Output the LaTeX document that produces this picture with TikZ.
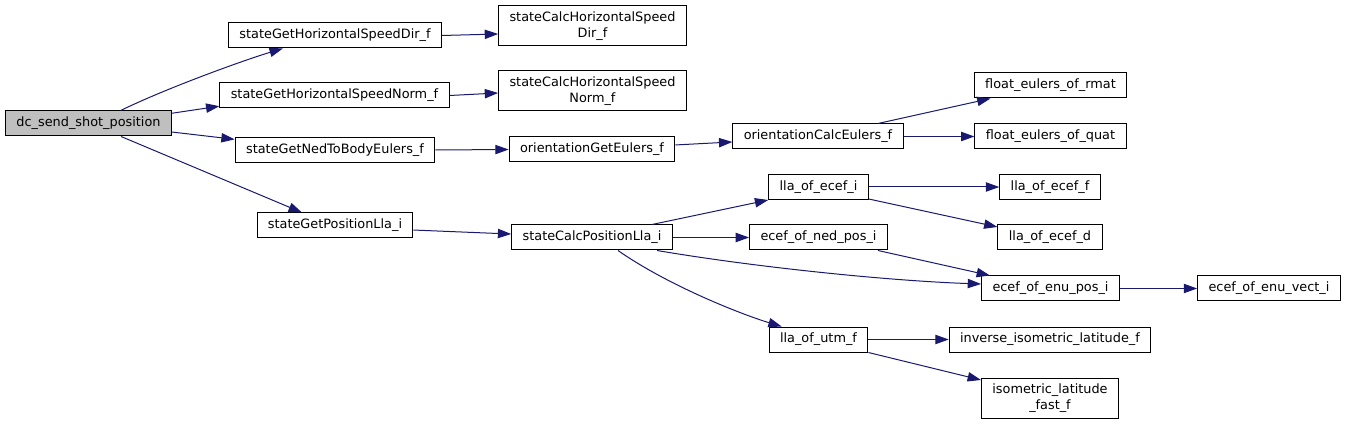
\documentclass[tikz,border=0pt]{standalone}
\usepackage{fontspec}
\setmainfont{DejaVu Sans}
\usepackage{tikz}
\usetikzlibrary{arrows.meta}
\definecolor{edgeblue}{HTML}{191970}
\definecolor{rootgray}{HTML}{BFBFBF}

\begin{document}
\begin{tikzpicture}[
 x=0.75pt,y=-0.75pt,
 fn/.style={draw=black,line width=0.75pt,minimum height=18.75pt,inner xsep=8.2pt,inner ysep=2pt,align=center,font=\fontsize{9.64}{12}\selectfont,fill=white},
 tall/.style={minimum height=30pt},
 root/.style={fn,fill=rootgray},
 arr/.style={-{Triangle[length=10pt,width=7pt]},line width=0.75pt,edgeblue}
]
\useasboundingbox (0,0) rectangle (1347,424);
\node[root] (send) at (88.5,123.5) {dc\_send\_shot\_position};
\node[fn] (getdir) at (335,35.5) {stateGetHorizontalSpeedDir\_f};
\node[fn] (getnorm) at (334.5,95.5) {stateGetHorizontalSpeedNorm\_f};
\node[fn] (getned) at (335,150) {stateGetNedToBodyEulers\_f};
\node[fn] (getpos) at (335,225.5) {stateGetPositionLla\_i};
\node[fn,tall] (calcdir) at (592.5,26) {stateCalcHorizontalSpeed\\Dir\_f};
\node[fn,tall] (calcnorm) at (592.5,91) {stateCalcHorizontalSpeed\\Norm\_f};
\node[fn] (orget) at (592,149.5) {orientationGetEulers\_f};
\node[fn] (calcpos) at (592,237.5) {stateCalcPositionLla\_i};
\node[fn] (orcalc) at (818,136.5) {orientationCalcEulers\_f};
\node[fn] (llai) at (818.5,187) {lla\_of\_ecef\_i};
\node[fn] (nedpos) at (818.5,237.5) {ecef\_of\_ned\_pos\_i};
\node[fn] (utm) at (818.5,339.5) {lla\_of\_utm\_f};
\node[fn] (rmat) at (1050.5,85.5) {float\_eulers\_of\_rmat};
\node[fn] (quat) at (1050.5,136.5) {float\_eulers\_of\_quat};
\node[fn] (llaf) at (1050,187) {lla\_of\_ecef\_f};
\node[fn] (llad) at (1050,237.5) {lla\_of\_ecef\_d};
\node[fn] (enupos) at (1050.5,288.5) {ecef\_of\_enu\_pos\_i};
\node[fn] (invlat) at (1050,339.5) {inverse\_isometric\_latitude\_f};
\node[fn,tall] (isolat) at (1050,398) {isometric\_latitude\\\_fast\_f};
\node[fn] (enuvect) at (1269,288.5) {ecef\_of\_enu\_vect\_i};
\draw[arr] (send.22) .. controls +(45,-22) and +(-40,12) .. (getdir.194);
\draw[arr] (send.7) -- ([yshift=-8pt]getnorm.west);
\draw[arr] ([yshift=-6.4pt]send.east) -- ([yshift=8pt]getned.west);
\draw[arr] ([xshift=24.4pt]send.south) -- ([xshift=-24.8pt]getpos.north);
\draw[arr] (getdir.east) -- ([yshift=-6pt]calcdir.west);
\draw[arr] (getnorm.east) -- ([yshift=-1.5pt]calcnorm.west);
\draw[arr] (getned.east) -- (orget.west);
\draw[arr] ([yshift=-3.4pt]getpos.east) -- ([yshift=2.6pt]calcpos.west);
\draw[arr] ([yshift=3.4pt]orget.east) -- ([yshift=-4.1pt]orcalc.west);
\draw[arr] ([xshift=45pt]orcalc.north) -- ([xshift=-45pt]rmat.south);
\draw[arr] (orcalc.east) -- (quat.west);
\draw[arr] ([xshift=45pt]calcpos.north) -- (llai.south west);
\draw[arr] (calcpos.east) -- (nedpos.west);
\draw[arr] ([xshift=48.8pt]calcpos.south) .. controls +(100,17) and +(-90,-3) .. ([yshift=3.4pt]enupos.west);
\draw[arr] ([xshift=19.5pt]calcpos.south) .. controls +(50,35) and +(-40,-12) .. ([xshift=-27.6pt]utm.north);
\draw[arr] ([xshift=44.6pt]nedpos.south) -- ([xshift=-45.4pt]enupos.north);
\draw[arr] (llai.east) -- (llaf.west);
\draw[arr] ([yshift=-9pt]llai.east) -- ([yshift=7.9pt]llad.west);
\draw[arr] (enupos.east) -- (enuvect.west);
\draw[arr] (utm.east) -- (invlat.west);
\draw[arr] (utm.south east) -- ([yshift=13.5pt]isolat.west);
\end{tikzpicture}
\end{document}
